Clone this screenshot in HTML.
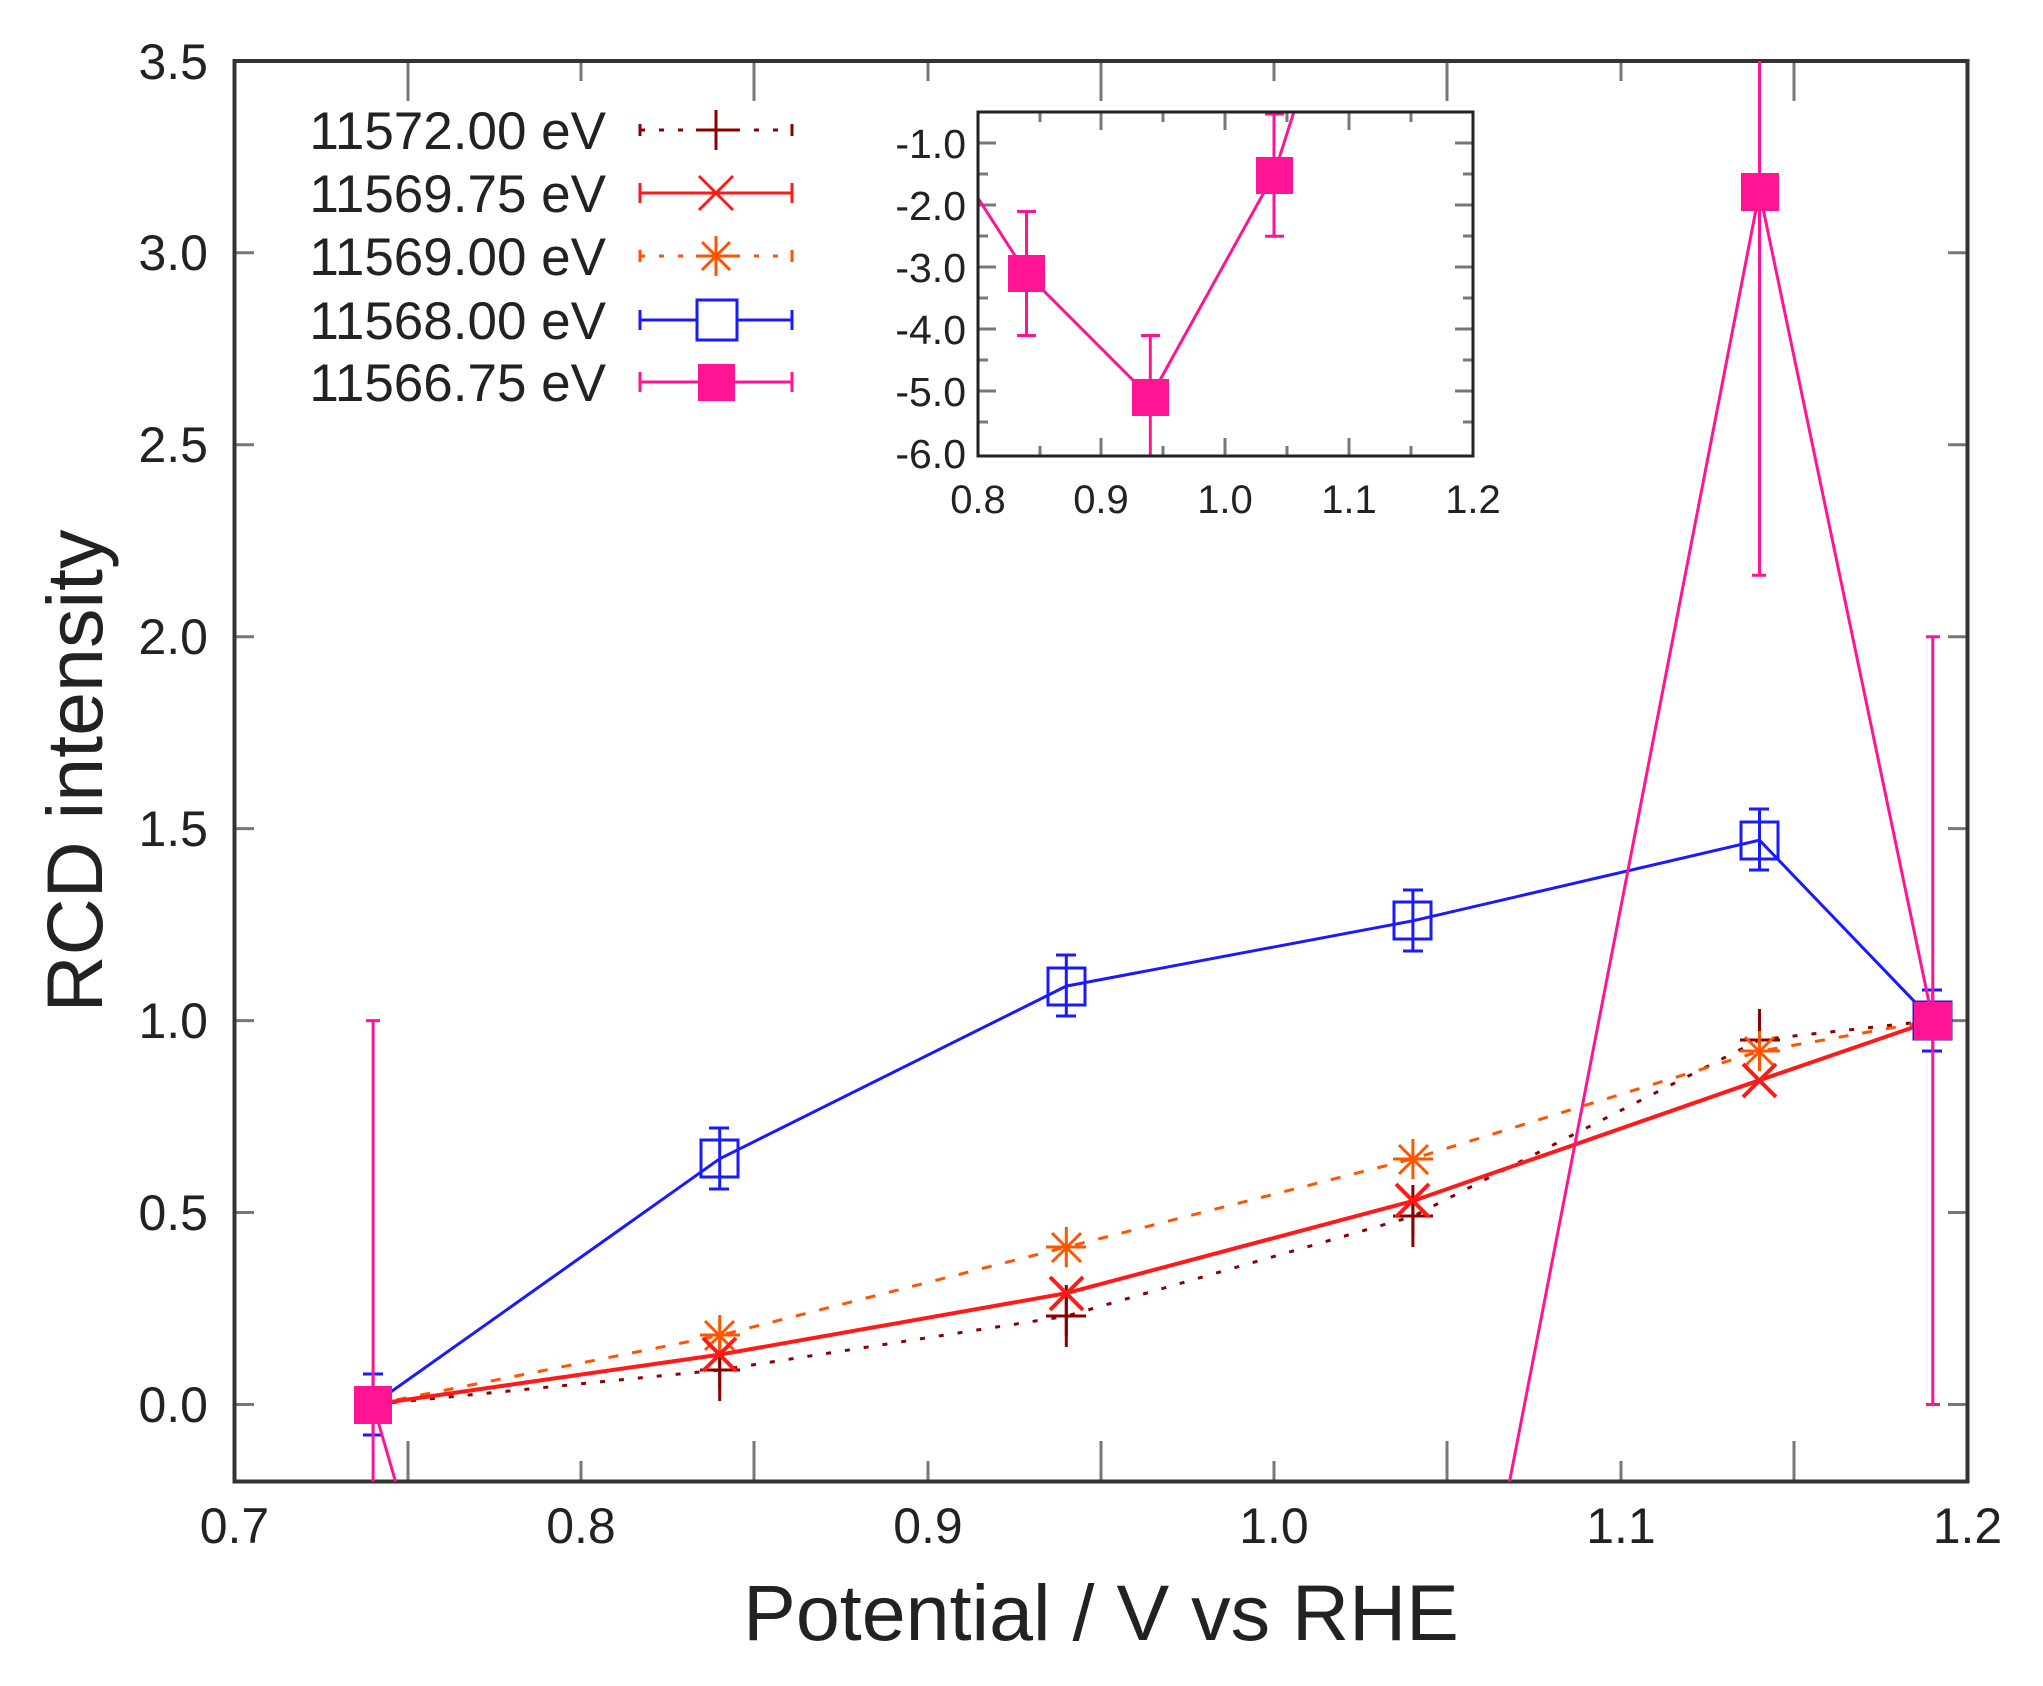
<!DOCTYPE html>
<html><head><meta charset="utf-8"><style>html,body{margin:0;padding:0;background:#fff;overflow:hidden;width:2043px;height:1686px}svg{display:block}text{font-family:"Liberation Sans",sans-serif;fill:#222}</style></head>
<body>
<svg width="2043" height="1686" viewBox="0 0 2043 1686" xmlns="http://www.w3.org/2000/svg">
<defs>
<clipPath id="cm"><rect x="234.5" y="61" width="1733" height="1420.5"/></clipPath>
<clipPath id="ci"><rect x="978" y="112" width="495" height="344"/></clipPath>
</defs>
<g stroke="#777" stroke-width="3">
<line x1="234.5" y1="1404.5" x2="254" y2="1404.5"/><line x1="1967.5" y1="1404.5" x2="1948" y2="1404.5"/>
<line x1="234.5" y1="1212.5" x2="254" y2="1212.5"/><line x1="1967.5" y1="1212.5" x2="1948" y2="1212.5"/>
<line x1="234.5" y1="1020.6" x2="254" y2="1020.6"/><line x1="1967.5" y1="1020.6" x2="1948" y2="1020.6"/>
<line x1="234.5" y1="828.6" x2="254" y2="828.6"/><line x1="1967.5" y1="828.6" x2="1948" y2="828.6"/>
<line x1="234.5" y1="636.7" x2="254" y2="636.7"/><line x1="1967.5" y1="636.7" x2="1948" y2="636.7"/>
<line x1="234.5" y1="444.7" x2="254" y2="444.7"/><line x1="1967.5" y1="444.7" x2="1948" y2="444.7"/>
<line x1="234.5" y1="252.8" x2="254" y2="252.8"/><line x1="1967.5" y1="252.8" x2="1948" y2="252.8"/>
<line x1="581" y1="1481.5" x2="581" y2="1461"/><line x1="581" y1="61" x2="581" y2="81"/>
<line x1="928" y1="1481.5" x2="928" y2="1461"/><line x1="928" y1="61" x2="928" y2="81"/>
<line x1="1274" y1="1481.5" x2="1274" y2="1461"/><line x1="1274" y1="61" x2="1274" y2="81"/>
<line x1="1621" y1="1481.5" x2="1621" y2="1461"/><line x1="1621" y1="61" x2="1621" y2="81"/>
<line x1="408" y1="1481.5" x2="408" y2="1441"/><line x1="408" y1="61" x2="408" y2="101"/>
<line x1="754" y1="1481.5" x2="754" y2="1441"/><line x1="754" y1="61" x2="754" y2="101"/>
<line x1="1101" y1="1481.5" x2="1101" y2="1441"/><line x1="1101" y1="61" x2="1101" y2="101"/>
<line x1="1447" y1="1481.5" x2="1447" y2="1441"/><line x1="1447" y1="61" x2="1447" y2="101"/>
<line x1="1794" y1="1481.5" x2="1794" y2="1441"/><line x1="1794" y1="61" x2="1794" y2="101"/>
</g>
<rect x="234.5" y="61" width="1733" height="1420.5" fill="none" stroke="#333" stroke-width="4"/>
<g font-size="50" text-anchor="end">
<text x="208" y="1422">0.0</text><text x="208" y="1230">0.5</text><text x="208" y="1038">1.0</text>
<text x="208" y="846">1.5</text><text x="208" y="654">2.0</text><text x="208" y="462">2.5</text>
<text x="208" y="270">3.0</text><text x="208" y="79">3.5</text>
</g>
<g font-size="50" text-anchor="middle">
<text x="234.5" y="1543">0.7</text><text x="581" y="1543">0.8</text><text x="928" y="1543">0.9</text>
<text x="1274" y="1543">1.0</text><text x="1621" y="1543">1.1</text><text x="1967.5" y="1543">1.2</text>
</g>
<text x="1101" y="1640" font-size="79" text-anchor="middle">Potential / V vs RHE</text>
<text transform="translate(102,771) rotate(-90)" font-size="79" text-anchor="middle">RCD intensity</text>

<g clip-path="url(#cm)" fill="none" stroke-width="3">
<g stroke="#8b0000">
<polyline stroke-dasharray="5,14" points="373.1,1404.5 719.7,1370 1066.3,1316.2 1412.9,1216.4 1759.5,1039.8 1932.8,1020.6"/>
<line x1="719.7" y1="1339" x2="719.7" y2="1401"/><line x1="1066.3" y1="1285" x2="1066.3" y2="1347"/>
<line x1="1412.9" y1="1185" x2="1412.9" y2="1247"/><line x1="1759.5" y1="1009" x2="1759.5" y2="1071"/>
<path d="M700,1370h40M719.7,1350v40M1046,1316h40M1066.3,1296v40M1393,1216h40M1412.9,1196v40M1740,1040h40M1759.5,1020v40"/>
</g>
<g stroke="#ff5500">
<polyline stroke-dasharray="10,14" points="373.1,1404.5 719.7,1335.4 1066.3,1247.1 1412.9,1158.8 1759.5,1051.3 1932.8,1020.6"/>
<path d="M700,1335h40M719.7,1315v40M705,1321l29,29M705,1350l29,-29M1046,1247h40M1066.3,1227v40M1052,1233l29,29M1052,1262l29,-29M1393,1159h40M1412.9,1139v40M1399,1145l29,29M1399,1174l29,-29M1740,1051h40M1759.5,1031v40M1745,1037l29,29M1745,1066l29,-29"/>
</g>
<g stroke="#ff1a1a" stroke-width="4">
<polyline points="373.1,1404.5 719.7,1354.6 1066.3,1293.2 1412.9,1201 1759.5,1080.2 1932.8,1020.6"/>
<path d="M703,1338l33,33M703,1371l33,-33M1050,1277l33,33M1050,1310l33,-33M1396,1184l33,33M1396,1217l33,-33M1743,1064l33,33M1743,1097l33,-33"/>
</g>
<g stroke="#1a1aff" stroke-width="3">
<polyline points="373.1,1404.5 719.7,1158.8 1066.3,986.1 1412.9,920.8 1759.5,840.2 1932.8,1020.6"/>
<path d="M373.1,1374v61M363,1374h20M363,1435h20M719.7,1128v61M709,1128h20M709,1189h20M1066.3,955v61M1056,955h20M1056,1016h20M1412.9,890v61M1403,890h20M1403,951h20M1759.5,809v61M1749,809h20M1749,870h20M1932.8,990v61M1922,990h20M1922,1051h20"/>
<rect x="701" y="1140" width="37" height="37"/><rect x="1048" y="968" width="37" height="37"/><rect x="1394" y="902" width="37" height="37"/><rect x="1741" y="822" width="37" height="37"/><rect x="1914" y="1002" width="37" height="37"/>
</g>
<g stroke="#ff1493" stroke-width="3">
<polyline points="373.1,1404.5 719.7,2594.6 1066.3,3362.4 1412.9,1980.4 1759.5,191.4 1932.8,1020.6"/>
<path d="M373.1,1020.6v480M366,1020.6h14M1759.5,0v575.3M1752,575.3h14M1932.8,636.7v767.8M1926,636.7h14M1926,1404.5h14"/>
</g>
<g fill="#ff1493"><rect x="354" y="1386" width="38" height="38"/><rect x="1741" y="173" width="38" height="38"/><rect x="1914" y="1002" width="38" height="38"/></g>
</g>

<g font-size="53" text-anchor="end">
<text x="606" y="149">11572.00 eV</text><text x="606" y="212">11569.75 eV</text>
<text x="606" y="275">11569.00 eV</text><text x="606" y="339">11568.00 eV</text>
<text x="606" y="401">11566.75 eV</text>
</g>
<g fill="none" stroke-width="3">
<g stroke="#8b0000"><line x1="640" y1="130" x2="792" y2="130" stroke-dasharray="5,14"/><path d="M696,130h40M716,110v40"/><line x1="640" y1="124" x2="640" y2="136"/><line x1="792" y1="124" x2="792" y2="136"/></g>
<g stroke="#ff1a1a"><line x1="640" y1="193" x2="792" y2="193"/><path d="M640,183v20M792,183v20M699,176l34,34M699,210l34,-34"/></g>
<g stroke="#ff5500"><line x1="640" y1="256" x2="792" y2="256" stroke-dasharray="5,14"/><path d="M696,256h40M716,236v40M702,242l28,28M702,270l28,-28M640,250v12M792,250v12"/></g>
<g stroke="#1a1aff"><line x1="640" y1="320" x2="697" y2="320"/><line x1="737" y1="320" x2="792" y2="320"/><path d="M640,310v20M792,310v20"/><rect x="697" y="300" width="40" height="40"/></g>
<g stroke="#ff1493"><line x1="640" y1="382" x2="792" y2="382"/><path d="M640,372v20M792,372v20"/></g>
</g>
<rect x="698" y="364" width="37" height="37" fill="#ff1493"/>

<rect x="978" y="112" width="495" height="344" fill="#fff"/>
<g stroke="#777" stroke-width="3">
<path d="M978,143h18M978,174h10M978,205h18M978,236h10M978,267h18M978,298h10M978,329h18M978,360h10M978,391h18M978,422h10M1473,143h-18M1473,174h-10M1473,205h-18M1473,236h-10M1473,267h-18M1473,298h-10M1473,329h-18M1473,360h-10M1473,391h-18M1473,422h-10"/>
<path d="M1040,456v-10M1101,456v-18M1163,456v-10M1225,456v-18M1287,456v-10M1349,456v-18M1411,456v-10M1040,112v10M1101,112v18M1163,112v10M1225,112v18M1287,112v10M1349,112v18M1411,112v10"/>
</g>
<g clip-path="url(#ci)" fill="none" stroke="#ff1493" stroke-width="3">
<polyline points="902.8,81.3 1026.5,273.5 1150.3,397.5 1274,174.3 1397.8,-214"/>
<path d="M1026.5,211.5v124M1017,211.5h19M1017,335.5h19M1150.3,335.5v124M1141,335.5h19M1274,112.3v124M1265,114h19M1265,236.3h19"/>
</g>
<g fill="#ff1493"><rect x="1008" y="255" width="37" height="37"/><rect x="1132" y="379" width="37" height="37"/><rect x="1256" y="157" width="37" height="37"/></g>
<rect x="978" y="112" width="495" height="344" fill="none" stroke="#222" stroke-width="3"/>
<g font-size="41" text-anchor="end">
<text x="966" y="158">-1.0</text><text x="966" y="220">-2.0</text><text x="966" y="282">-3.0</text>
<text x="966" y="344">-4.0</text><text x="966" y="406">-5.0</text><text x="966" y="468">-6.0</text>
</g>
<g font-size="40" text-anchor="middle">
<text x="978" y="513">0.8</text><text x="1101" y="513">0.9</text><text x="1225" y="513">1.0</text>
<text x="1349" y="513">1.1</text><text x="1473" y="513">1.2</text>
</g>
</svg>
</body></html>
